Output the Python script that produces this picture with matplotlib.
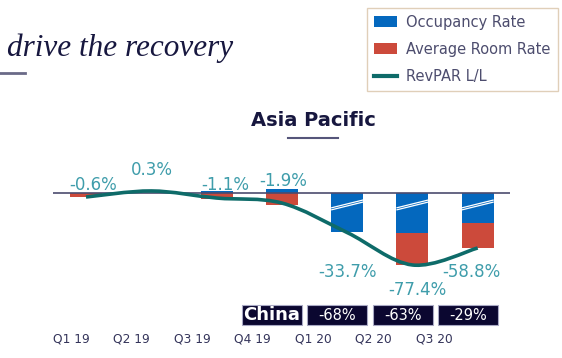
import matplotlib
matplotlib.use("Agg")
import matplotlib.pyplot as plt
from matplotlib.patches import Patch, Rectangle, PathPatch
from matplotlib.lines import Line2D
from matplotlib.path import Path
import numpy as np

# ---------------- data (as drawn, chart units) ----------------
quarters = ["Q1 19", "Q2 19", "Q3 19", "Q4 19", "Q1 20", "Q2 20", "Q3 20"]
occupancy = [0.0, 0.0, 2.2, 4.3, -42.0, -43.0, -32.3]
avg_room_rate = [-3.8, 0.0, -6.5, -13.0, 0.0, -34.4, -26.9]
revpar = [-4.3, 2.2, -5.4, -10.8, -42.5, -77.4, -59.1]
revpar_labels = ["-0.6%", "0.3%", "-1.1%", "-1.9%", "-33.7%", "-77.4%", "-58.8%"]
china_quarters = ["Q4 19", "Q1 20", "Q2 20", "Q3 20"]
china_labels = ["China", "-68%", "-63%", "-29%"]

# ---------------- style ----------------
BLUE = "#0468be"
RED = "#cc4a3b"
TEAL = "#0e6b69"
LABEL_TEAL = "#3f9dab"
NAVY = "#17173f"
GREY_TXT = "#4d4d6e"
BOX = "#0b0730"

W, H = 562, 358
fig = plt.figure(figsize=(W / 100, H / 100), dpi=100)
fig.patch.set_facecolor("white")

PX = 0.93        # pixels per chart unit (vertical)
Y0 = 193         # pixel row of the zero line
ylo, yhi = -150, 40
left_px, right_px = 53.35, 510.35
top_px = Y0 - yhi * PX
bot_px = Y0 - ylo * PX
ax = fig.add_axes([left_px / W, 1 - bot_px / H, (right_px - left_px) / W, (bot_px - top_px) / H])
ax.set_xlim(-0.5, 6.5)
ax.set_ylim(ylo, yhi)
ax.axis("off")

x = np.arange(len(quarters))
occ = np.array(occupancy)
arr = np.array(avg_room_rate)
bw = 0.49
ax.bar(x, occ, width=bw, color=BLUE, zorder=2)
ax.bar(x, arr, width=bw, bottom=np.minimum(occ, 0), color=RED, zorder=2)
ax.axhline(0, color="#4b4b6e", lw=1.2, zorder=3)

# break marks in the big bars
for i in range(4, 7):
    for off in (0, -2.2):
        ax.plot([i - bw / 2, i + bw / 2], [-16 + off, -7.5 + off], color="white", lw=0.9, zorder=4,
                solid_capstyle="butt")

# smooth RevPAR line (Catmull-Rom as Bezier path)
pts = np.column_stack([x, revpar]).astype(float)
verts = [pts[0]]
codes = [Path.MOVETO]
n = len(pts)
for i in range(n - 1):
    p0 = pts[max(i - 1, 0)]
    p1 = pts[i]
    p2 = pts[i + 1]
    p3 = pts[min(i + 2, n - 1)]
    c1 = p1 + (p2 - p0) / 6
    c2 = p2 - (p3 - p1) / 6
    verts += [c1, c2, p2]
    codes += [Path.CURVE4] * 3
ax.add_patch(PathPatch(Path(verts, codes), fill=False, edgecolor=TEAL, lw=2.6, zorder=5,
                       capstyle="butt"))

# RevPAR labels
label_pos = [(0.107, 8.6), (1.01, 24.7), (2.14, 8.6), (3.02, 12.9), (4.0, -85), (5.07, -104), (5.9, -85)]
for (lx, ly), t in zip(label_pos, revpar_labels):
    ax.text(lx, ly, t, color=LABEL_TEAL, fontsize=12, ha="center", va="center", zorder=6)

# China boxes
bx_w = 0.92
y_top = -(305 - Y0) / PX
y_bot = -(325 - Y0) / PX
for q, t in zip(china_quarters, china_labels):
    cx = quarters.index(q) - 0.15
    ax.add_patch(Rectangle((cx - bx_w / 2, y_bot), bx_w, y_top - y_bot, facecolor=BOX,
                           edgecolor="#a9a9c4", lw=0.8, clip_on=False, zorder=3))
    if t == "China":
        ax.text(cx, (y_top + y_bot) / 2, t, color="white", fontsize=13, fontweight="bold",
                ha="center", va="center", zorder=4)
    else:
        ax.text(cx, (y_top + y_bot) / 2, t, color="white", fontsize=10.5,
                ha="center", va="center", zorder=4)

# quarter labels on their own scale
lab_left, lab_step = 71 - 30.25, 60.5
ax2 = fig.add_axes([lab_left / W, 1 - 331 / H, 7 * lab_step / W, 0.001])
ax2.set_xlim(-0.5, 6.5)
ax2.set_xticks(range(len(quarters)))
ax2.set_xticklabels(quarters, fontsize=8.8, color="#34345a")
ax2.tick_params(axis="x", length=0, pad=1)
ax2.set_yticks([])
for s in ax2.spines.values():
    s.set_visible(False)
ax2.patch.set_alpha(0)

# titles
fig.text(7 / W, 1 - 56 / H, "drive the recovery", fontsize=22.5, style="italic",
         family="Liberation Serif", color=NAVY, va="baseline", ha="left")
fig.add_artist(Line2D([0, 25 / W], [1 - 73 / H] * 2, color="#6a6a88", lw=2))
fig.text(313 / W, 1 - 120 / H, "Asia Pacific", fontsize=14, fontweight="bold", color=NAVY,
         ha="center", va="center")
fig.add_artist(Line2D([288 / W, 338 / W], [1 - 138 / H] * 2, color="#55557a", lw=1.5))

# legend
handles = [Patch(facecolor=BLUE), Patch(facecolor=RED), Line2D([], [], color=TEAL, lw=3)]
labels = ["Occupancy Rate", "Average Room Rate", "RevPAR L/L"]
leg = fig.legend(handles, labels, loc="upper left",
                 bbox_to_anchor=(367 / W, 1 - 87 / H, (558 - 367) / W, (87 - 8) / H),
                 mode="expand", frameon=True, fancybox=False, edgecolor="#d9c4a8",
                 borderpad=0.45, labelspacing=0.85, handlelength=1.6, handleheight=0.8,
                 handletextpad=0.65, borderaxespad=0, prop=dict(size=10.5))
leg.get_frame().set_linewidth(1.0)
for t in leg.get_texts():
    t.set_color(GREY_TXT)

fig.savefig("out.png", dpi=100)
